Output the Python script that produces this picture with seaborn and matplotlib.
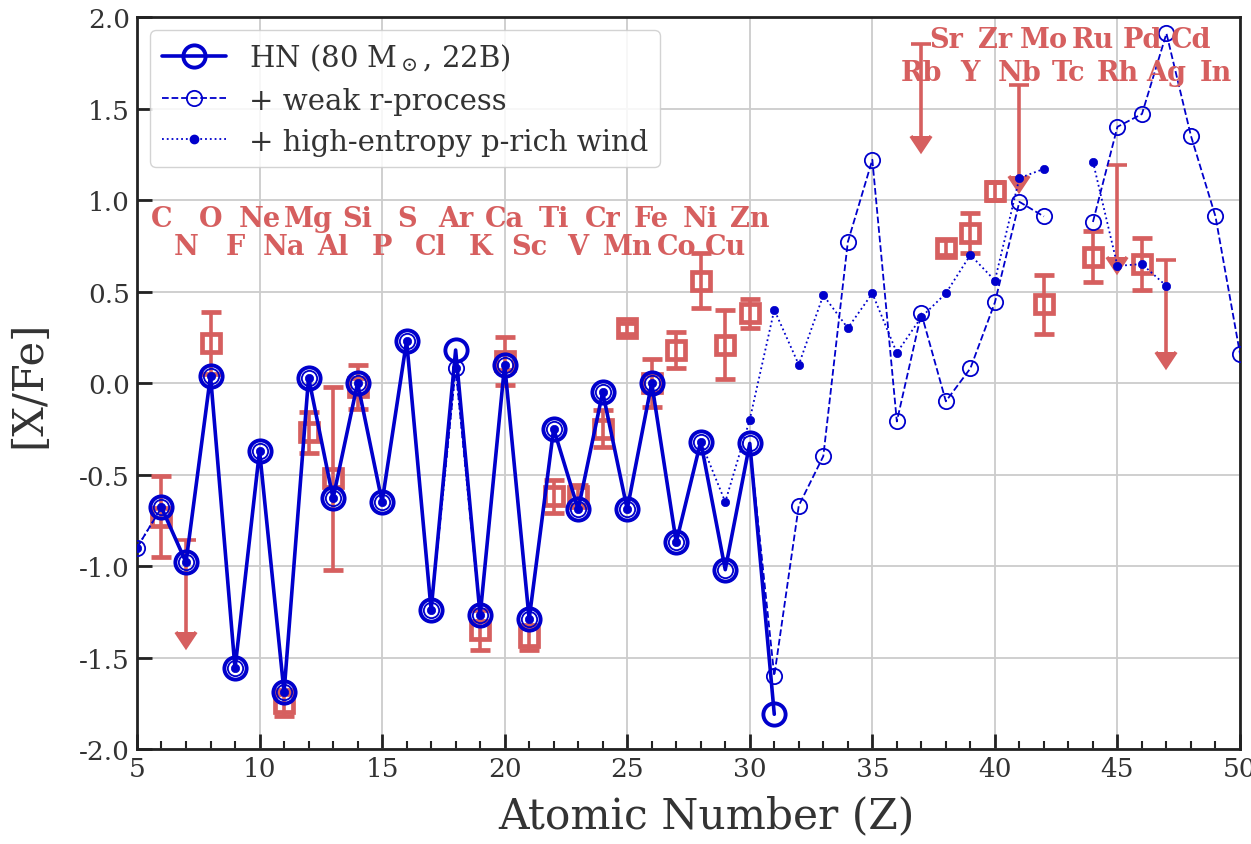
import numpy as np
import pandas as pd
import matplotlib
matplotlib.use("Agg")
import matplotlib.pyplot as plt
from matplotlib.lines import Line2D
from matplotlib.ticker import MultipleLocator, FormatStrFormatter
import seaborn as sns

nan = np.nan

# HN (80 Msun, 22B) yields
z_hn = list(range(6, 32))
xfe_hn = [-0.68, -0.98, 0.04, -1.56, -0.37, -1.69, 0.03, -0.63, 0.00, -0.65,
          0.23, -1.24, 0.18, -1.27, 0.10, -1.29, -0.25, -0.69, -0.05, -0.69,
          0.00, -0.87, -0.32, -1.02, -0.33, -1.81]

# HN + weak r-process
z_weak = list(range(5, 51))
xfe_weak = [-0.90, -0.68, -0.98, 0.04, -1.56, -0.37, -1.69, 0.03, -0.63, 0.00,
            -0.65, 0.23, -1.24, 0.08, -1.27, 0.10, -1.29, -0.25, -0.69, -0.05,
            -0.69, 0.00, -0.87, -0.32, -1.02, -0.33, -1.60, -0.67, -0.40, 0.77,
            1.22, -0.21, 0.38, -0.10, 0.08, 0.44, 0.99, 0.91, nan, 0.88,
            1.40, 1.47, 1.91, 1.35, 0.91, 0.16]

# HN + high-entropy p-rich wind
z_wind = list(range(5, 48))
xfe_wind = [-0.90, -0.68, -0.98, 0.04, -1.56, -0.37, -1.69, 0.03, -0.63, 0.00,
            -0.65, 0.23, -1.24, 0.08, -1.27, 0.10, -1.29, -0.25, -0.69, -0.05,
            -0.69, 0.00, -0.87, -0.32, -0.65, -0.20, 0.40, 0.10, 0.48, 0.30,
            0.49, 0.165, 0.36, 0.49, 0.70, 0.56, 1.12, 1.17, nan, 1.21,
            0.64, 0.65, 0.53]

# observed abundances with errors
z_obs = [6, 8, 11, 12, 13, 14, 19, 20, 21, 22, 23, 24, 25, 26, 27, 28, 29, 30,
         38, 39, 40, 42, 44, 46]
xfe_obs = [-0.73, 0.22, -1.75, -0.27, -0.52, -0.02, -1.35, 0.12, -1.39, -0.62,
           -0.62, -0.25, 0.30, 0.00, 0.18, 0.56, 0.21, 0.38,
           0.74, 0.82, 1.05, 0.43, 0.69, 0.65]
err_obs = [0.22, 0.17, 0.07, 0.11, 0.50, 0.12, 0.11, 0.13, 0.07, 0.09,
           0.06, 0.10, 0.03, 0.13, 0.10, 0.15, 0.19, 0.08,
           0.04, 0.11, 0.05, 0.16, 0.14, 0.14]

# observed upper limits
z_lim = [7, 37, 41, 45, 47]
xfe_lim = [-0.86, 1.85, 1.63, 1.19, 0.67]
lim_arrow = 0.50

# element names, two staggered rows
elem_light_top = ["C", "O", "Ne", "Mg", "Si", "S", "Ar", "Ca", "Ti", "Cr", "Fe", "Ni", "Zn"]
elem_light_bot = ["N", "F", "Na", "Al", "P", "Cl", "K", "Sc", "V", "Mn", "Co", "Cu"]
elem_heavy_top = ["Sr", "Zr", "Mo", "Ru", "Pd", "Cd"]
elem_heavy_bot = ["Rb", "Y", "Nb", "Tc", "Rh", "Ag", "In"]

BLUE = "#0000cc"
RED = "#d65f5f"

sns.set_style("whitegrid")
plt.rcParams["font.family"] = ["DejaVu Serif"]
plt.rcParams["mathtext.fontset"] = "dejavuserif"

fig = plt.figure(figsize=(12.51, 8.45), dpi=100)
ax = fig.add_axes([0.1095, 0.1124, 0.8817, 0.8663])


def segmented(z, v):
    df = pd.DataFrame({"Z": z, "XFe": v})
    df["seg"] = df["XFe"].isna().cumsum()
    return df.dropna()


# observations
ax.errorbar(z_obs, xfe_obs, yerr=err_obs, fmt="s", ms=13, mfc="none", mec=RED,
            mew=3.4, ecolor=RED, elinewidth=2.6, capsize=7, capthick=2.6, zorder=2)
_, lim_caps, _ = ax.errorbar(z_lim, xfe_lim, yerr=lim_arrow, uplims=True,
                             fmt="none", ecolor=RED, elinewidth=2.6, capsize=7,
                             capthick=2.6, zorder=2)
for cl in lim_caps:
    cl.set_markerfacecolor(RED)
    cl.set_markeredgecolor(RED)

# models
sns.lineplot(x=z_hn, y=xfe_hn, ax=ax, color=BLUE, linewidth=2.6, marker="o",
             markersize=16, markerfacecolor="none", markeredgecolor=BLUE,
             markeredgewidth=2.8, zorder=3, legend=False)
sns.lineplot(data=segmented(z_weak, xfe_weak), x="Z", y="XFe", units="seg",
             estimator=None, ax=ax, color=BLUE, linewidth=1.3, linestyle="--",
             marker="o", markersize=11, markerfacecolor="none",
             markeredgecolor=BLUE, markeredgewidth=1.3, zorder=4, legend=False)
sns.lineplot(data=segmented(z_wind, xfe_wind), x="Z", y="XFe", units="seg",
             estimator=None, ax=ax, color=BLUE, linewidth=1.3, linestyle=":",
             marker="o", markersize=6, markerfacecolor=BLUE,
             markeredgecolor=BLUE, markeredgewidth=0.5, zorder=5, legend=False)

# element labels
lab_kw = dict(ha="center", va="baseline", color=RED, fontsize=19.5,
              fontweight="bold", zorder=6)
for i, name in enumerate(elem_light_top):
    ax.text(6 + 2 * i, 0.86, name, **lab_kw)
for i, name in enumerate(elem_light_bot):
    ax.text(7 + 2 * i, 0.705, name, **lab_kw)
for i, name in enumerate(elem_heavy_top):
    ax.text(38 + 2 * i, 1.835, name, **lab_kw)
for i, name in enumerate(elem_heavy_bot):
    ax.text(37 + 2 * i, 1.655, name, **lab_kw)

ax.set_xlim(5, 50)
ax.set_ylim(-2.0, 2.0)
ax.xaxis.set_major_locator(MultipleLocator(5))
ax.xaxis.set_minor_locator(MultipleLocator(1))
ax.yaxis.set_major_locator(MultipleLocator(0.5))
ax.yaxis.set_major_formatter(FormatStrFormatter("%.1f"))

ax.grid(True, which="major", color="#cccccc", linewidth=1.3)
ax.set_axisbelow(True)
for sp in ax.spines.values():
    sp.set_color("#222222")
    sp.set_linewidth(2.0)

ax.tick_params(which="major", direction="in", length=11, width=2,
               color="#222222", labelsize=19, labelcolor="#333333", pad=5,
               left=True, bottom=True, top=False, right=False)
ax.tick_params(axis="x", which="minor", direction="in", length=6, width=1.5,
               color="#222222", bottom=True, top=False)

ax.set_xlabel("Atomic Number (Z)", fontsize=30.5, color="#333333")
ax.set_ylabel("[X/Fe]", fontsize=30, color="#333333")
ax.xaxis.set_label_coords(0.516, -0.062)
ax.yaxis.set_label_coords(-0.079, 0.5)

handles = [
    Line2D([], [], color=BLUE, lw=2.6, marker="o", ms=16, mfc="none", mec=BLUE, mew=2.8),
    Line2D([], [], color=BLUE, lw=1.3, ls="--", marker="o", ms=11, mfc="none", mec=BLUE, mew=1.3),
    Line2D([], [], color=BLUE, lw=1.3, ls=":", marker="o", ms=6, mfc=BLUE, mec=BLUE),
]
labels = [r"HN (80 M$_\odot$, 22B)", "+ weak r-process", "+ high-entropy p-rich wind"]
leg = ax.legend(handles, labels, loc="upper left", fontsize=21, handlelength=2.2,
                labelspacing=0.45, borderaxespad=0.45, frameon=True, fancybox=True,
                framealpha=0.85, edgecolor="#cccccc")
for t in leg.get_texts():
    t.set_color("#333333")

fig.savefig("out.png", dpi=100)
